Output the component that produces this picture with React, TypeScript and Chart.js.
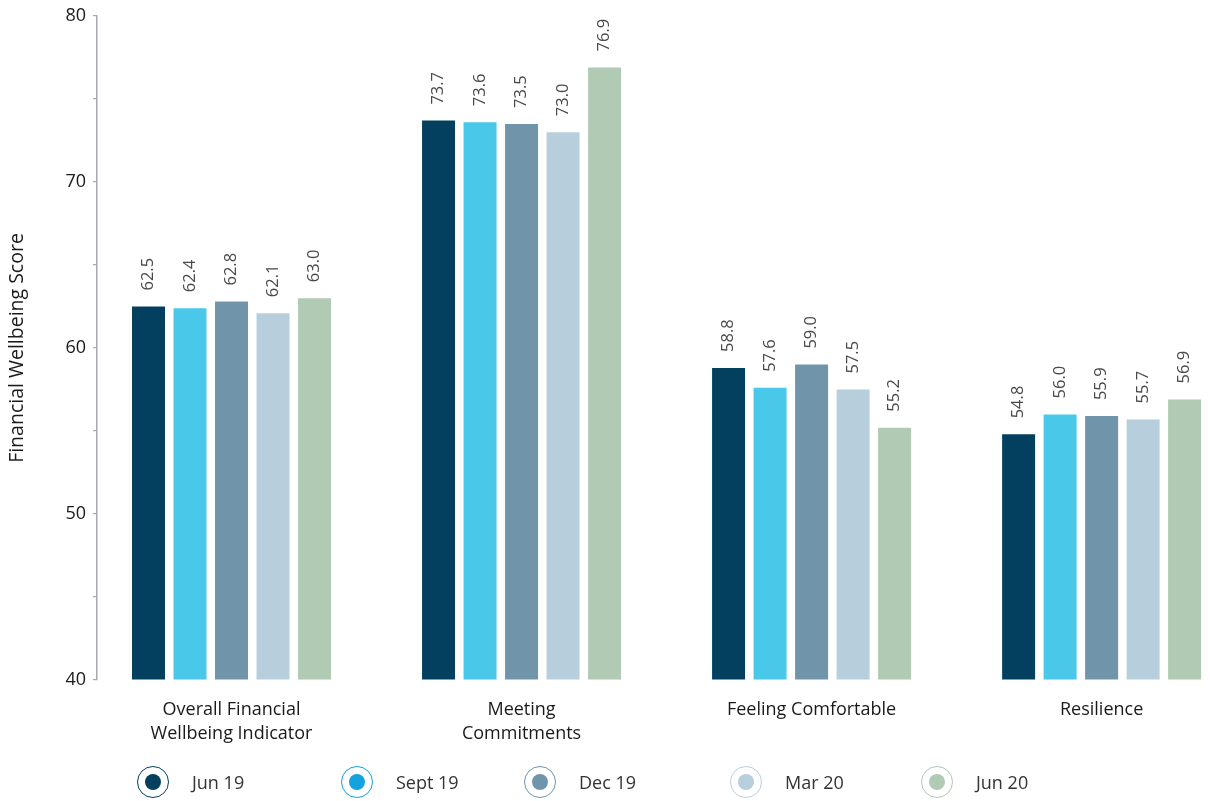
import React, { useEffect, useRef } from "react";
import { Chart, registerables } from "chart.js";

Chart.register(...registerables);

const categories: (string | string[])[] = [
  ["Overall Financial", "Wellbeing Indicator"],
  ["Meeting", "Commitments"],
  "Feeling Comfortable",
  "Resilience",
];

const seriesNames = ["Jun 19", "Sept 19", "Dec 19", "Mar 20", "Jun 20"];

const jun19 = [62.5, 73.7, 58.8, 54.8];
const sept19 = [62.4, 73.6, 57.6, 56.0];
const dec19 = [62.8, 73.5, 59.0, 55.9];
const mar20 = [62.1, 73.0, 57.5, 55.7];
const jun20 = [63.0, 76.9, 55.2, 56.9];

const seriesValues = [jun19, sept19, dec19, mar20, jun20];

const barColors = ["#03405f", "#4ac8ea", "#7095ab", "#b7cfdd", "#b0cab3"];
const legendColors = ["#03405f", "#14a3dc", "#7095ab", "#b7cfdd", "#b0cab3"];
const legendItemWidths = [204, 183, 206, 191, 120];

const yTicksMin = 40;
const yTicksMax = 80;
const yTickStep = 5;

const FONT = "'Open Sans', 'Noto Sans', sans-serif";

const valueLabelPlugin = {
  id: "valueLabels",
  afterDatasetsDraw(chart: any) {
    const ctx = chart.ctx;
    chart.data.datasets.forEach((ds: any, i: number) => {
      const meta = chart.getDatasetMeta(i);
      meta.data.forEach((el: any, j: number) => {
        const v = ds.data[j].y as number;
        ctx.save();
        ctx.translate(el.x, el.y - 16);
        ctx.rotate(-Math.PI / 2);
        ctx.font = `16.5px ${FONT}`;
        ctx.fillStyle = "#4a4a4a";
        ctx.textAlign = "left";
        ctx.textBaseline = "middle";
        ctx.fillText(v.toFixed(1), 0, 0);
        ctx.restore();
      });
    });
  },
};

function LegendMarker({ color }: { color: string }) {
  return (
    <span
      style={{
        width: 30,
        height: 30,
        borderRadius: "50%",
        border: `1.6px solid ${color}`,
        display: "inline-flex",
        alignItems: "center",
        justifyContent: "center",
        flex: "0 0 auto",
      }}
    >
      <span
        style={{
          width: 16,
          height: 16,
          borderRadius: "50%",
          background: color,
          display: "block",
        }}
      />
    </span>
  );
}

export default function App() {
  const ref = useRef<HTMLCanvasElement>(null);

  useEffect(() => {
    document.body.style.margin = "0";
    const chart = new Chart(ref.current!, {
      type: "bar",
      data: {
        datasets: seriesNames.map((name, i) => ({
          label: name,
          data: seriesValues[i].map((y, x) => ({ x, y })),
          backgroundColor: barColors[i],
          borderWidth: 0,
          categoryPercentage: 0.7155,
          barPercentage: 0.795,
          base: yTicksMin,
          clip: { left: 0, top: 0, right: 60, bottom: 0 } as any,
        })),
      },
      options: {
        animation: false,
        responsive: true,
        maintainAspectRatio: false,
        layout: { padding: { top: 4, left: 0, right: 44, bottom: 43 } },
        plugins: {
          tooltip: { enabled: false },
          legend: { display: false },
        },
        scales: {
          x: {
            type: "linear",
            offset: false,
            min: -0.4638,
            max: 3.222,
            grid: { display: false },
            border: { display: false },
            afterBuildTicks: (scale: any) => {
              scale.ticks = categories.map((_, i) => ({ value: i }));
            },
            afterFit: (scale: any) => {
              scale.height = 78;
            },
            ticks: {
              autoSkip: false,
              maxRotation: 0,
              minRotation: 0,
              padding: 10,
              color: "#1a1a1a",
              font: { family: FONT, size: 18, lineHeight: 1.33 },
              callback: (v: any) => categories[v as number] ?? "",
            },
          },
          y: {
            min: yTicksMin,
            max: yTicksMax,
            afterFit: (scale: any) => {
              scale.width = 97;
            },
            grid: {
              drawOnChartArea: false,
              drawTicks: true,
              tickLength: 4,
              color: "#a9a9b2",
              lineWidth: 1.2,
            },
            border: { display: true, color: "#a9a9b2", width: 1.5 },
            ticks: {
              stepSize: yTickStep,
              padding: 7,
              color: "#1a1a1a",
              font: { family: FONT, size: 18, lineHeight: 1.0 },
              callback: (v: any) => ((v as number) % 10 === 0 ? String(v) : ""),
            },
            title: {
              display: true,
              text: "Financial Wellbeing Score",
              color: "#1a1a1a",
              font: { family: FONT, size: 19.5 },
              padding: { top: 6, bottom: 0 },
            },
          },
        },
      },
      plugins: [valueLabelPlugin],
    });
    return () => chart.destroy();
  }, []);

  return (
    <div style={{ width: 1210, height: 801, position: "relative", fontFamily: FONT }}>
      <canvas ref={ref} />
      <div
        style={{
          position: "absolute",
          left: 137,
          top: 765,
          display: "flex",
          alignItems: "center",
          height: 34,
        }}
      >
        {seriesNames.map((name, i) => (
          <div
            key={name}
            style={{ width: legendItemWidths[i], display: "flex", alignItems: "center" }}
          >
            <LegendMarker color={legendColors[i]} />
            <span style={{ marginLeft: 23, fontSize: 18, color: "#333" }}>{name}</span>
          </div>
        ))}
      </div>
    </div>
  );
}
